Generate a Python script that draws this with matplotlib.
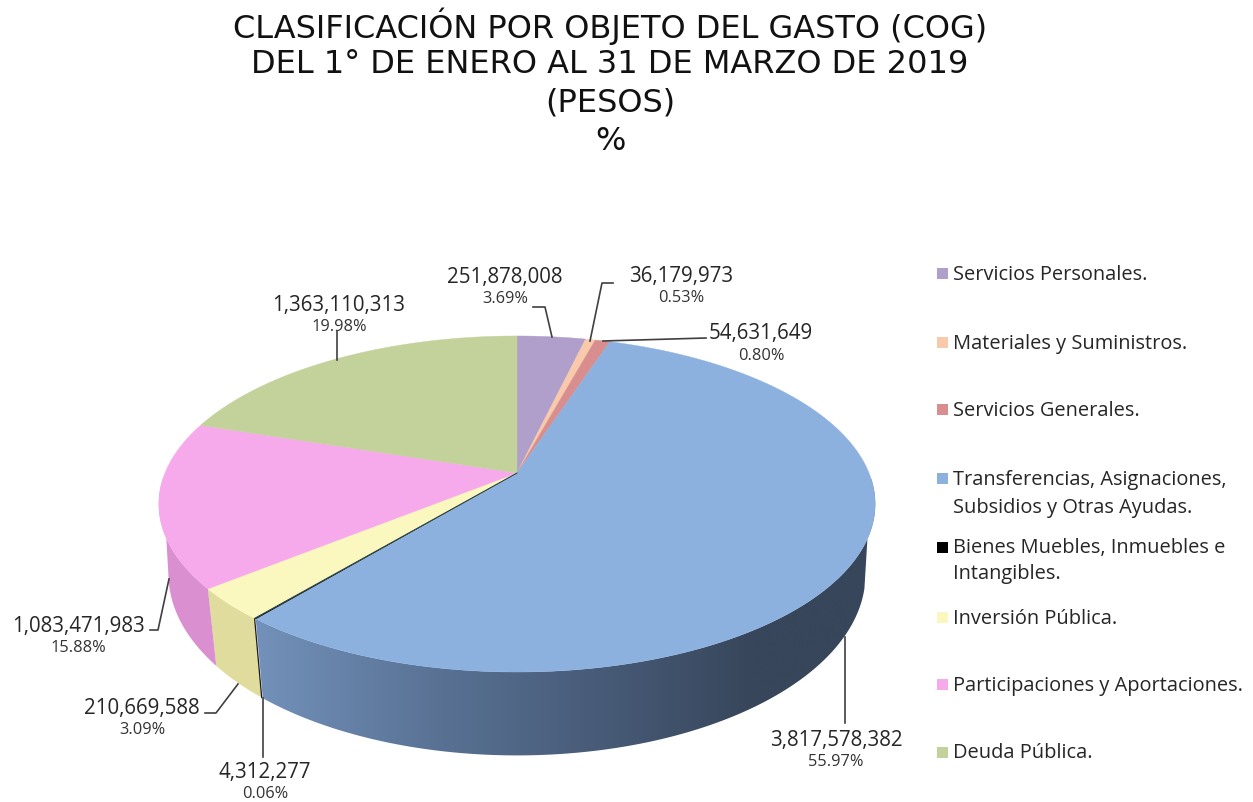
import numpy as np
import matplotlib
matplotlib.use('Agg')
import matplotlib.pyplot as plt
from matplotlib.colors import LinearSegmentedColormap
from matplotlib.patches import Polygon, Rectangle

# chart data, clockwise from the top of the pie
categories = ['Servicios Personales.', 'Materiales y Suministros.', 'Servicios Generales.',
              'Transferencias, Asignaciones,\nSubsidios y Otras Ayudas.',
              'Bienes Muebles, Inmuebles e\nIntangibles.', 'Inversión Pública.',
              'Participaciones y Aportaciones.', 'Deuda Pública.']
values = [251878008, 36179973, 54631649, 3817578382, 4312277, 210669588, 1083471983, 1363110313]
percents = ['3.69%', '0.53%', '0.80%', '55.97%', '0.06%', '3.09%', '15.88%', '19.98%']
top_colors = ['#b09fca', '#f8c9aa', '#d88e8e', '#8db1df', '#000000', '#faf7bf', '#f6aaec', '#c3d19b']
side_colors = ['#8f80a8', '#d0a488', '#b06f6f', '#5f7a9e', '#000000', '#dfdc9e', '#d98fd0', '#a0ad7c']

title_lines = ['CLASIFICACIÓN POR OBJETO DEL GASTO (COG)', 'DEL 1° DE ENERO AL 31 DE MARZO DE 2019', '(PESOS)', '%']

# pixel layout of the picture
label_pos = [(505, 277.5, 299), (681, 276.5, 298), (761, 333.5, 356), (836, 740.5, 762),
             (265, 772.5, 794), (142, 708.5, 730), (78, 626.5, 648), (339, 305.5, 327)]
leaders = [[(533, 307), (545, 307), (552, 337)],
           [(613, 283), (602, 283), (590, 341)],
           [(706, 338), (603, 341)],
           [(845, 637), (845, 723)],
           [(263, 698), (263, 757)],
           [(205, 713), (216, 713), (238, 684)],
           [(150, 630), (158, 630), (169, 579)],
           [(337, 360), (337, 331)]]
legend_y = [273, 342, 409, 478, 547, 617, 684, 752]
second_line_gap = [0, 0, 0, 28, 26, 0, 0, 0]
title_y = [38, 73, 111, 150]

# perspective ellipse of the pie
CX, CY = 517, 473
RX, RY = 352, 162.3
K = 0.1845
DEPTH = 68
BOTTOM_SCALE = 0.973


def rim(theta, bottom=False):
    # theta in degrees clockwise from the top of the pie
    t = np.radians(theta)
    u, v = np.sin(t), np.cos(t)
    w = 1 + K * v
    x = RX * u / w
    y = CY - RY * v / w
    if bottom:
        return CX + x * BOTTOM_SCALE, y + DEPTH / w
    return CX + x, y


def side_polygon(top_a, top_b, bottom_a, bottom_b):
    x1, y1 = rim(np.linspace(top_a, top_b, 200))
    x2, y2 = rim(np.linspace(bottom_b, bottom_a, 200), bottom=True)
    return np.column_stack([np.r_[x1, x2], np.r_[y1, y2]])


fig = plt.figure(figsize=(12.53, 8.02), dpi=100)
ax = fig.add_axes([0, 0, 1, 1])

edges = np.r_[0, np.cumsum(values)] / np.sum(values) * 360

# sides first, only the slices facing the front
blue_side = Polygon(side_polygon(92, edges[4], 105, edges[4]), closed=True, fc='none', ec='none')
ax.add_patch(blue_side)
cmap = LinearSegmentedColormap.from_list('side', [(0, '#7391ba'), (0.3, '#587193'), (0.62, '#435570'),
                                                  (0.8, '#37465a'), (1, '#37465a')])
img = ax.imshow(np.linspace(0, 1, 256)[None, :], extent=(255, 880, 802, 400), cmap=cmap, aspect='auto', zorder=1)
img.set_clip_path(blue_side)

ax.add_patch(Polygon(side_polygon(edges[5], edges[6], edges[5], edges[6]), closed=True,
                     fc=side_colors[5], ec='none', zorder=2))
ax.add_patch(Polygon(side_polygon(edges[6], 268, edges[6], 258), closed=True,
                     fc=side_colors[6], ec='none', zorder=2))
# the very thin black slice
xb1, yb1 = rim(edges[5])
xb2, yb2 = rim(edges[5], bottom=True)
ax.plot([xb1, xb2], [yb1, yb2], color='#1a1a1a', lw=0.9, zorder=3)

# top face
for i in range(len(values)):
    th = np.linspace(edges[i], edges[i + 1], 300)
    x, y = rim(th)
    pts = np.column_stack([np.r_[CX, x], np.r_[CY, y]])
    ax.add_patch(Polygon(pts, closed=True, fc=top_colors[i], ec=top_colors[i], lw=0.3, zorder=4))
xb, yb = rim(edges[5])
ax.plot([CX, xb], [CY, yb], color='#1f3a3a', lw=0.7, zorder=5)

# data labels and leader lines
for i in range(len(values)):
    lx, vy, py = label_pos[i]
    ax.text(lx, vy, f'{values[i]:,}', ha='center', va='center', fontsize=14.8, color='#262626',
            family='Open Sans', zorder=6)
    ax.text(lx, py, percents[i], ha='center', va='center', fontsize=11.8, color='#333333',
            family='Open Sans', zorder=6)
    pts = np.array(leaders[i])
    ax.plot(pts[:, 0], pts[:, 1], color='#404040', lw=1.2, zorder=6)

# legend
for i in range(len(categories)):
    ax.add_patch(Rectangle((937, legend_y[i] - 5.5), 11, 11, fc=top_colors[i], ec='none', zorder=6))
    lines = categories[i].split('\n')
    ax.text(953, legend_y[i] + 1.5, lines[0], ha='left', va='center', fontsize=14.4,
            color='#262626', family='Open Sans', zorder=6)
    if len(lines) > 1:
        ax.text(953, legend_y[i] + 1.5 + second_line_gap[i], lines[1], ha='left', va='center', fontsize=14.4,
                color='#262626', family='Open Sans', zorder=6)

# title
for line, y in zip(title_lines, title_y):
    ax.text(610, y, line, ha='center', va='baseline', fontsize=23, color='#111111', family='DejaVu Sans', zorder=6)

ax.set_xlim(0, 1253)
ax.set_ylim(802, 0)
ax.axis('off')

plt.savefig('out.png', dpi=100)
plt.close()
